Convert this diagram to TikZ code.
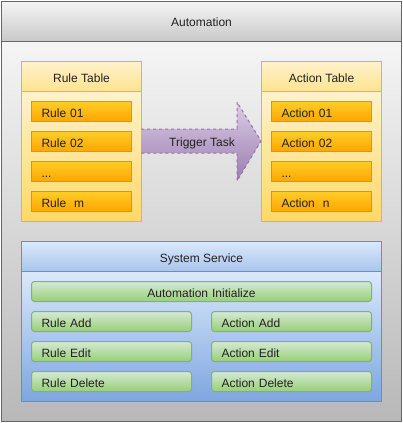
\documentclass[tikz,border=0pt]{standalone}
\usepackage{fontspec}
\setmainfont{Liberation Sans}
\usetikzlibrary{positioning}

\definecolor{grayline}{HTML}{666666}
\definecolor{grayhi}{HTML}{F5F5F5}
\definecolor{grayhd}{HTML}{C8C8C8}
\definecolor{graylo}{HTML}{B8B8B8}
\definecolor{yelline}{HTML}{D6B656}
\definecolor{yelhi}{HTML}{FFF2CC}
\definecolor{yelhd}{HTML}{FFE38F}
\definecolor{yello}{HTML}{FFD966}
\definecolor{orline}{HTML}{D79B00}
\definecolor{orhi}{HTML}{FFCD28}
\definecolor{orlo}{HTML}{FFA500}
\definecolor{bluline}{HTML}{6C8EBF}
\definecolor{bluhi}{HTML}{DAE8FC}
\definecolor{bluhd}{HTML}{A9C4EB}
\definecolor{blulo}{HTML}{7EA6E0}
\definecolor{grnline}{HTML}{82B366}
\definecolor{grnhi}{HTML}{D5E8D4}
\definecolor{grnlo}{HTML}{97D077}
\definecolor{purline}{HTML}{9673A6}
\definecolor{purhi}{HTML}{DCCDE5}
\definecolor{purlo}{HTML}{9A7DB0}
\definecolor{txt}{HTML}{222222}

\tikzset{
  cell/.style={anchor=north west, line width=1pt, inner xsep=10pt, inner ysep=0pt,
    minimum height=20pt, text height=12pt, text depth=1pt,
    font=\fontsize{12}{14}\selectfont, text=txt},
  frame/.style={cell, draw=grayline, minimum width=400pt},
  tabhead/.style={cell, draw=yelline, top color=yelhi, bottom color=yelhd,
    minimum width=120pt, minimum height=30pt},
  tabbody/.style={cell, draw=yelline, top color=yelhi, bottom color=yello,
    minimum width=120pt, minimum height=130pt},
  tabitem/.style={cell, draw=orline, top color=orhi, bottom color=orlo,
    text width=80pt, align=left},
  svchead/.style={cell, draw=bluline, top color=bluhi, bottom color=bluhd,
    minimum width=360pt, minimum height=30pt},
  svcbody/.style={cell, draw=bluline, top color=bluhi, bottom color=blulo,
    minimum width=360pt, minimum height=130pt},
  svcitem/.style={cell, draw=grnline, top color=grnhi, bottom color=grnlo,
    rounded corners=3pt, text width=140pt, align=left},
  trigarrow/.style={draw=purline, line width=1pt, dash pattern=on 3pt off 3pt,
    top color=purhi, bottom color=purlo}
}

\begin{document}
\begin{tikzpicture}[x=1pt, y=-1pt]
  \useasboundingbox (0,0) rectangle (403,423);

  % Automation frame
  \node[frame, minimum height=380pt, top color=grayhi, bottom color=graylo] (autobody) at (1,41) {};
  \node[frame, minimum height=40pt, top color=grayhi, bottom color=grayhd] (autohead) at (1,1) {Automation};

  % Rule table
  \node[tabbody] (rulebody) at (21,91) {};
  \node[tabhead] (rulehead) at (21,61) {Rule Table};
  \node[tabitem] (rule1) at (31,101) {Rule 01};
  \node[tabitem] (rule2) at (31,131) {Rule 02};
  \node[tabitem] (rule3) at (31,161) {...};
  \node[tabitem] (rulem) at (31,191) {Rule\ \ m};

  % Action table
  \node[tabbody] (actbody) at (261,91) {};
  \node[tabhead] (acthead) at (261,61) {Action Table};
  \node[tabitem] (act1) at (271,101) {Action 01};
  \node[tabitem] (act2) at (271,131) {Action 02};
  \node[tabitem] (act3) at (271,161) {...};
  \node[tabitem] (actn) at (271,191) {Action\ \ n};

  % Trigger task arrow
  \path[trigarrow] (141,129) -- (237,129) -- (237,102) -- (261,141)
    -- (237,181) -- (237,153) -- (141,153);
  \node[cell, anchor=center, inner xsep=0pt] (trigger) at (202,141) {Trigger Task};

  % System service
  \node[svcbody] (svcbody) at (21,271) {};
  \node[svchead] (svchead) at (21,241) {System Service};
  \node[svcitem, text width=320pt, align=center] (init) at (31,281) {Automation Initialize};
  \node[svcitem] (ruleadd) at (31,311) {Rule Add};
  \node[svcitem] (ruleedit) at (31,341) {Rule Edit};
  \node[svcitem] (ruledel) at (31,371) {Rule Delete};
  \node[svcitem] (actadd) at (211,311) {Action Add};
  \node[svcitem] (actedit) at (211,341) {Action Edit};
  \node[svcitem] (actdel) at (211,371) {Action Delete};
\end{tikzpicture}
\end{document}
